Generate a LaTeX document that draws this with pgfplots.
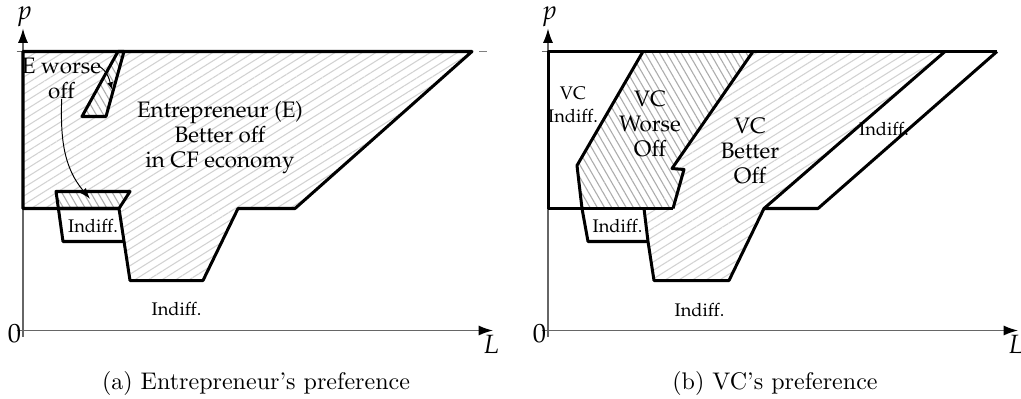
\documentclass[border=0pt]{standalone}
\usepackage[T1,TU]{fontenc}
\usepackage{pgfplots}
\pgfplotsset{compat=1.18}
\usetikzlibrary{patterns.meta,arrows.meta}

% Palatino for the text inside the diagrams
\newcommand\pal{\fontencoding{T1}\fontfamily{ppl}\selectfont}
\newcommand\labfont{\pal\fontsize{9.3}{10.4}\selectfont}
\newcommand\smfont{\pal\fontsize{7.6}{9.4}\selectfont}
\newcommand\axfont{\pal\itshape\fontsize{11}{12}\selectfont}

\pgfplotsset{
  regions/.style={
    x=0.416pt, y=0.416pt,
    xmin=0, xmax=470, ymin=0, ymax=302,
    enlargelimits=false, clip=false,
    axis lines=left,
    axis line style={draw=gray!80!black, line width=0.6pt,
      -{Latex[black,length=6pt,width=4.2pt]}},
    xtick={0}, xticklabels={},
    ytick={0,279}, yticklabels={},
    tick align=outside, major tick length=2.6pt,
    tick style={draw=gray!80!black, line width=0.5pt},
  },
  outline/.style={black, line width=1.25pt, line join=round, mark=none},
  light/.style={draw=none, mark=none,
    pattern={Lines[angle=32,distance=3pt,line width=0.45pt]},
    pattern color=gray!35},
  dense/.style={draw=none, fill=white, mark=none,
    postaction={pattern={Lines[angle=-60,distance=2.6pt,line width=0.45pt]},
                pattern color=gray!65}},
}

\begin{document}
\begin{tikzpicture}
\useasboundingbox (-9.568pt,-28.08pt) rectangle (415.17pt,137.49pt);

% (a) entrepreneur
\begin{axis}[regions, at={(0pt,0pt)}, anchor=origin]
  % shaded regions
  \addplot[light] coordinates {(0,279) (449,279) (272,122) (215,122) (180,50) (107,50) (96,122) (0,122)} --cycle;
  \addplot[dense] coordinates {(33,139) (107,139) (96,122) (35.4,122)} --cycle;
  \addplot[dense] coordinates {(95,279) (101,279) (83,214) (59,214)} --cycle;
  % boundaries
  \addplot[outline] coordinates {(0,279) (449,279) (272,122) (215,122) (180,50) (107,50) (96,122) (0,122)} --cycle;
  \addplot[outline] coordinates {(33,139) (107,139) (96,122) (35.4,122)} --cycle;
  \addplot[outline] coordinates {(35.4,122) (40,89) (101,89)};
  \addplot[outline] coordinates {(95,279) (101,279) (83,214) (59,214)} --cycle;
  \addplot[gray, line width=0.6pt, mark=none] coordinates {(456,279) (464,279)};
  % labels
  \node[font=\labfont, align=center] at (axis cs:38.5,252) {E worse\\off};
  \node[font=\labfont, align=center] at (axis cs:197,193) {Entrepreneur (E)\\Better off\\in CF economy};
  \node[font=\smfont] at (axis cs:70,105) {Indiff.};
  \node[font=\smfont] at (axis cs:153.5,21.5) {Indiff.};
  \draw[line width=0.4pt, -{Latex[length=3pt,width=2.5pt]}] (axis cs:75,265) to[out=-30,in=105] (axis cs:89,241);
  \draw[line width=0.4pt, -{Latex[length=4.5pt,width=3.2pt]}] (axis cs:38.7,231.7) to[out=-92,in=130] (axis cs:67,131.7);
  \node[font=\axfont] at (axis cs:2,313.5) {p};
  \node[font=\axfont] at (axis cs:468.5,-13.5) {L};
  \node[font=\pal\fontsize{11}{12}\selectfont] at (axis cs:-8.5,-3) {0};
  \node at (axis cs:233,-53) {(a) Entrepreneur's preference};
\end{axis}

% (b) venture capitalist
\begin{axis}[regions, at={(218.4pt,0pt)}, anchor=origin]
  % shaded regions
  \addplot[dense] coordinates {(95,279) (205,279) (124,162) (136,161) (125,122) (34,122) (29,165)} --cycle;
  \addplot[light] coordinates {(205,279) (397,279) (216,122) (181,50) (106,50) (96,122) (125,122) (136,161) (124,162)} --cycle;
  % boundaries
  \addplot[outline] coordinates {(0,122) (0,279) (449,279)};
  \addplot[outline] coordinates {(0,122) (125,122)};
  \addplot[outline] coordinates {(95,279) (29,165) (34,122) (40,89) (100,89)};
  \addplot[outline] coordinates {(205,279) (124,162) (136,161) (125,122)};
  \addplot[outline] coordinates {(96,122) (100,89) (106,50) (181,50) (216,122) (397,279)};
  \addplot[outline] coordinates {(216,122) (270,122) (449,279)};
  % labels
  \node[font=\smfont, align=center] at (axis cs:25,226) {VC\\Indiff.};
  \node[font=\labfont, align=center] at (axis cs:102,207) {VC\\Worse\\Off};
  \node[font=\labfont, align=center] at (axis cs:202,180) {VC\\Better\\Off};
  \node[font=\smfont] at (axis cs:336,201.5) {Indiff.};
  \node[font=\smfont] at (axis cs:69.5,105) {Indiff.};
  \node[font=\smfont] at (axis cs:151.5,21) {Indiff.};
  \node[font=\axfont] at (axis cs:2,313.5) {p};
  \node[font=\axfont] at (axis cs:468.5,-13.5) {L};
  \node[font=\pal\fontsize{11}{12}\selectfont] at (axis cs:-8.5,-3) {0};
  \node at (axis cs:227,-53) {(b) VC's preference};
\end{axis}
\end{tikzpicture}
\end{document}
